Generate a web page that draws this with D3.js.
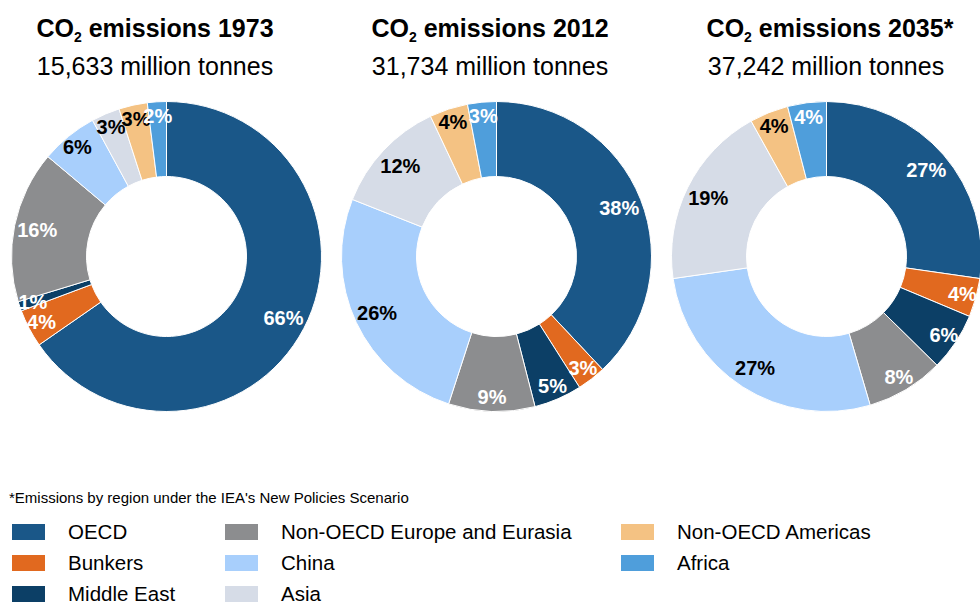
<!DOCTYPE html>
<html>
<head>
<meta charset="utf-8">
<script src="https://cdn.jsdelivr.net/npm/d3@7"></script>
<style>
  body { margin: 0; background: #fff; }
  svg { display: block; font-family: "Liberation Sans", Arial, sans-serif; }
</style>
</head>
<body>
<div id="chart"></div>
<script>
// Data
//= ================================
var regions = ["OECD", "Bunkers", "Middle East", "Non-OECD Europe and Eurasia",
  "China", "Asia", "Non-OECD Americas", "Africa"];
var regionColors = ["#1a5788", "#e1691f", "#0c3f66", "#8c8d8f",
  "#a8cffc", "#d6dce7", "#f4c283", "#4f9edb"];
// black labels on the light slices
var darkText = ["China", "Asia", "Non-OECD Americas"];

var years = ["1973", "2012", "2035*"];
var totals = ["15,633", "31,734", "37,242"];
var share1973 = [66, 4, 1, 16, 6, 3, 3, 2];
var share2012 = [38, 3, 5, 9, 26, 12, 4, 3];
var share2035 = [27, 4, 6, 8, 27, 19, 4, 4];
var shares = [share1973, share2012, share2035];

var footnote = "*Emissions by region under the IEA's New Policies Scenario";

// Step 1: Set up the chart
//= ================================
var svgWidth = 980;
var svgHeight = 604;

var outerR = 155;
var innerR = 80;
var centerY = 256.5;
var centersX = [166.5, 496.5, 826.5];
var titleX = [155, 490, 830];
var subX = [155, 490, 826];

var svg = d3.select("#chart")
  .append("svg")
  .attr("width", svgWidth)
  .attr("height", svgHeight);

var color = d3.scaleOrdinal()
  .domain(regions)
  .range(regionColors);

var pie = d3.pie()
  .sort(null)
  .value(d => d.value);

var arc = d3.arc()
  .innerRadius(innerR)
  .outerRadius(outerR);

// labels sit a little further out on the thin slices
var labelArcBig = d3.arc().innerRadius(132).outerRadius(132);
var labelArcSmall = d3.arc().innerRadius(141).outerRadius(141);

// Step 2: Draw the three donuts
//= ================================
shares.forEach(function(values, i) {
  var data = regions.map(function(r, j) {
    return { region: r, value: values[j] };
  });

  // titles
  var title = svg.append("text")
    .attr("x", titleX[i])
    .attr("y", 37)
    .attr("text-anchor", "middle")
    .attr("font-size", 25)
    .attr("font-weight", "bold")
    .attr("fill", "#000");
  title.append("tspan").text("CO");
  title.append("tspan")
    .attr("font-size", 14)
    .attr("dy", 5)
    .text("2");
  title.append("tspan")
    .attr("dy", -5)
    .text(" emissions " + years[i]);

  svg.append("text")
    .attr("x", subX[i])
    .attr("y", 75)
    .attr("text-anchor", "middle")
    .attr("font-size", 25)
    .attr("fill", "#000")
    .text(totals[i] + " million tonnes");

  var chartGroup = svg.append("g")
    .attr("transform", `translate(${centersX[i]}, ${centerY})`);

  var slices = pie(data);

  chartGroup.selectAll("path")
    .data(slices)
    .enter()
    .append("path")
    .attr("d", arc)
    .attr("fill", d => color(d.data.region))
    .attr("stroke", "#fff")
    .attr("stroke-width", 1);

  chartGroup.selectAll("text")
    .data(slices)
    .enter()
    .append("text")
    .attr("transform", function(d) {
      var a = d.data.value >= 10 ? labelArcBig : labelArcSmall;
      return `translate(${a.centroid(d)})`;
    })
    .attr("text-anchor", "middle")
    .attr("dominant-baseline", "central")
    .attr("font-size", 20)
    .attr("font-weight", "bold")
    .attr("fill", d => darkText.indexOf(d.data.region) >= 0 ? "#000" : "#fff")
    .text(d => d.data.value + "%");
});

// Step 3: Footnote and legend
//= ================================
svg.append("text")
  .attr("x", 9)
  .attr("y", 503)
  .attr("font-size", 15)
  .attr("fill", "#000")
  .text(footnote);

var legendCols = [12, 225, 621];
var legendRows = [524, 555, 586];

var legend = svg.selectAll(".legend")
  .data(regions)
  .enter()
  .append("g")
  .attr("class", "legend")
  .attr("transform", function(d, i) {
    var col = Math.floor(i / 3);
    var row = i % 3;
    return `translate(${legendCols[col]}, ${legendRows[row]})`;
  });

legend.append("rect")
  .attr("width", 33)
  .attr("height", 16)
  .attr("fill", d => color(d));

legend.append("text")
  .attr("x", 56)
  .attr("y", 15)
  .attr("font-size", 20.5)
  .attr("fill", "#000")
  .text(d => d);
</script>
</body>
</html>
